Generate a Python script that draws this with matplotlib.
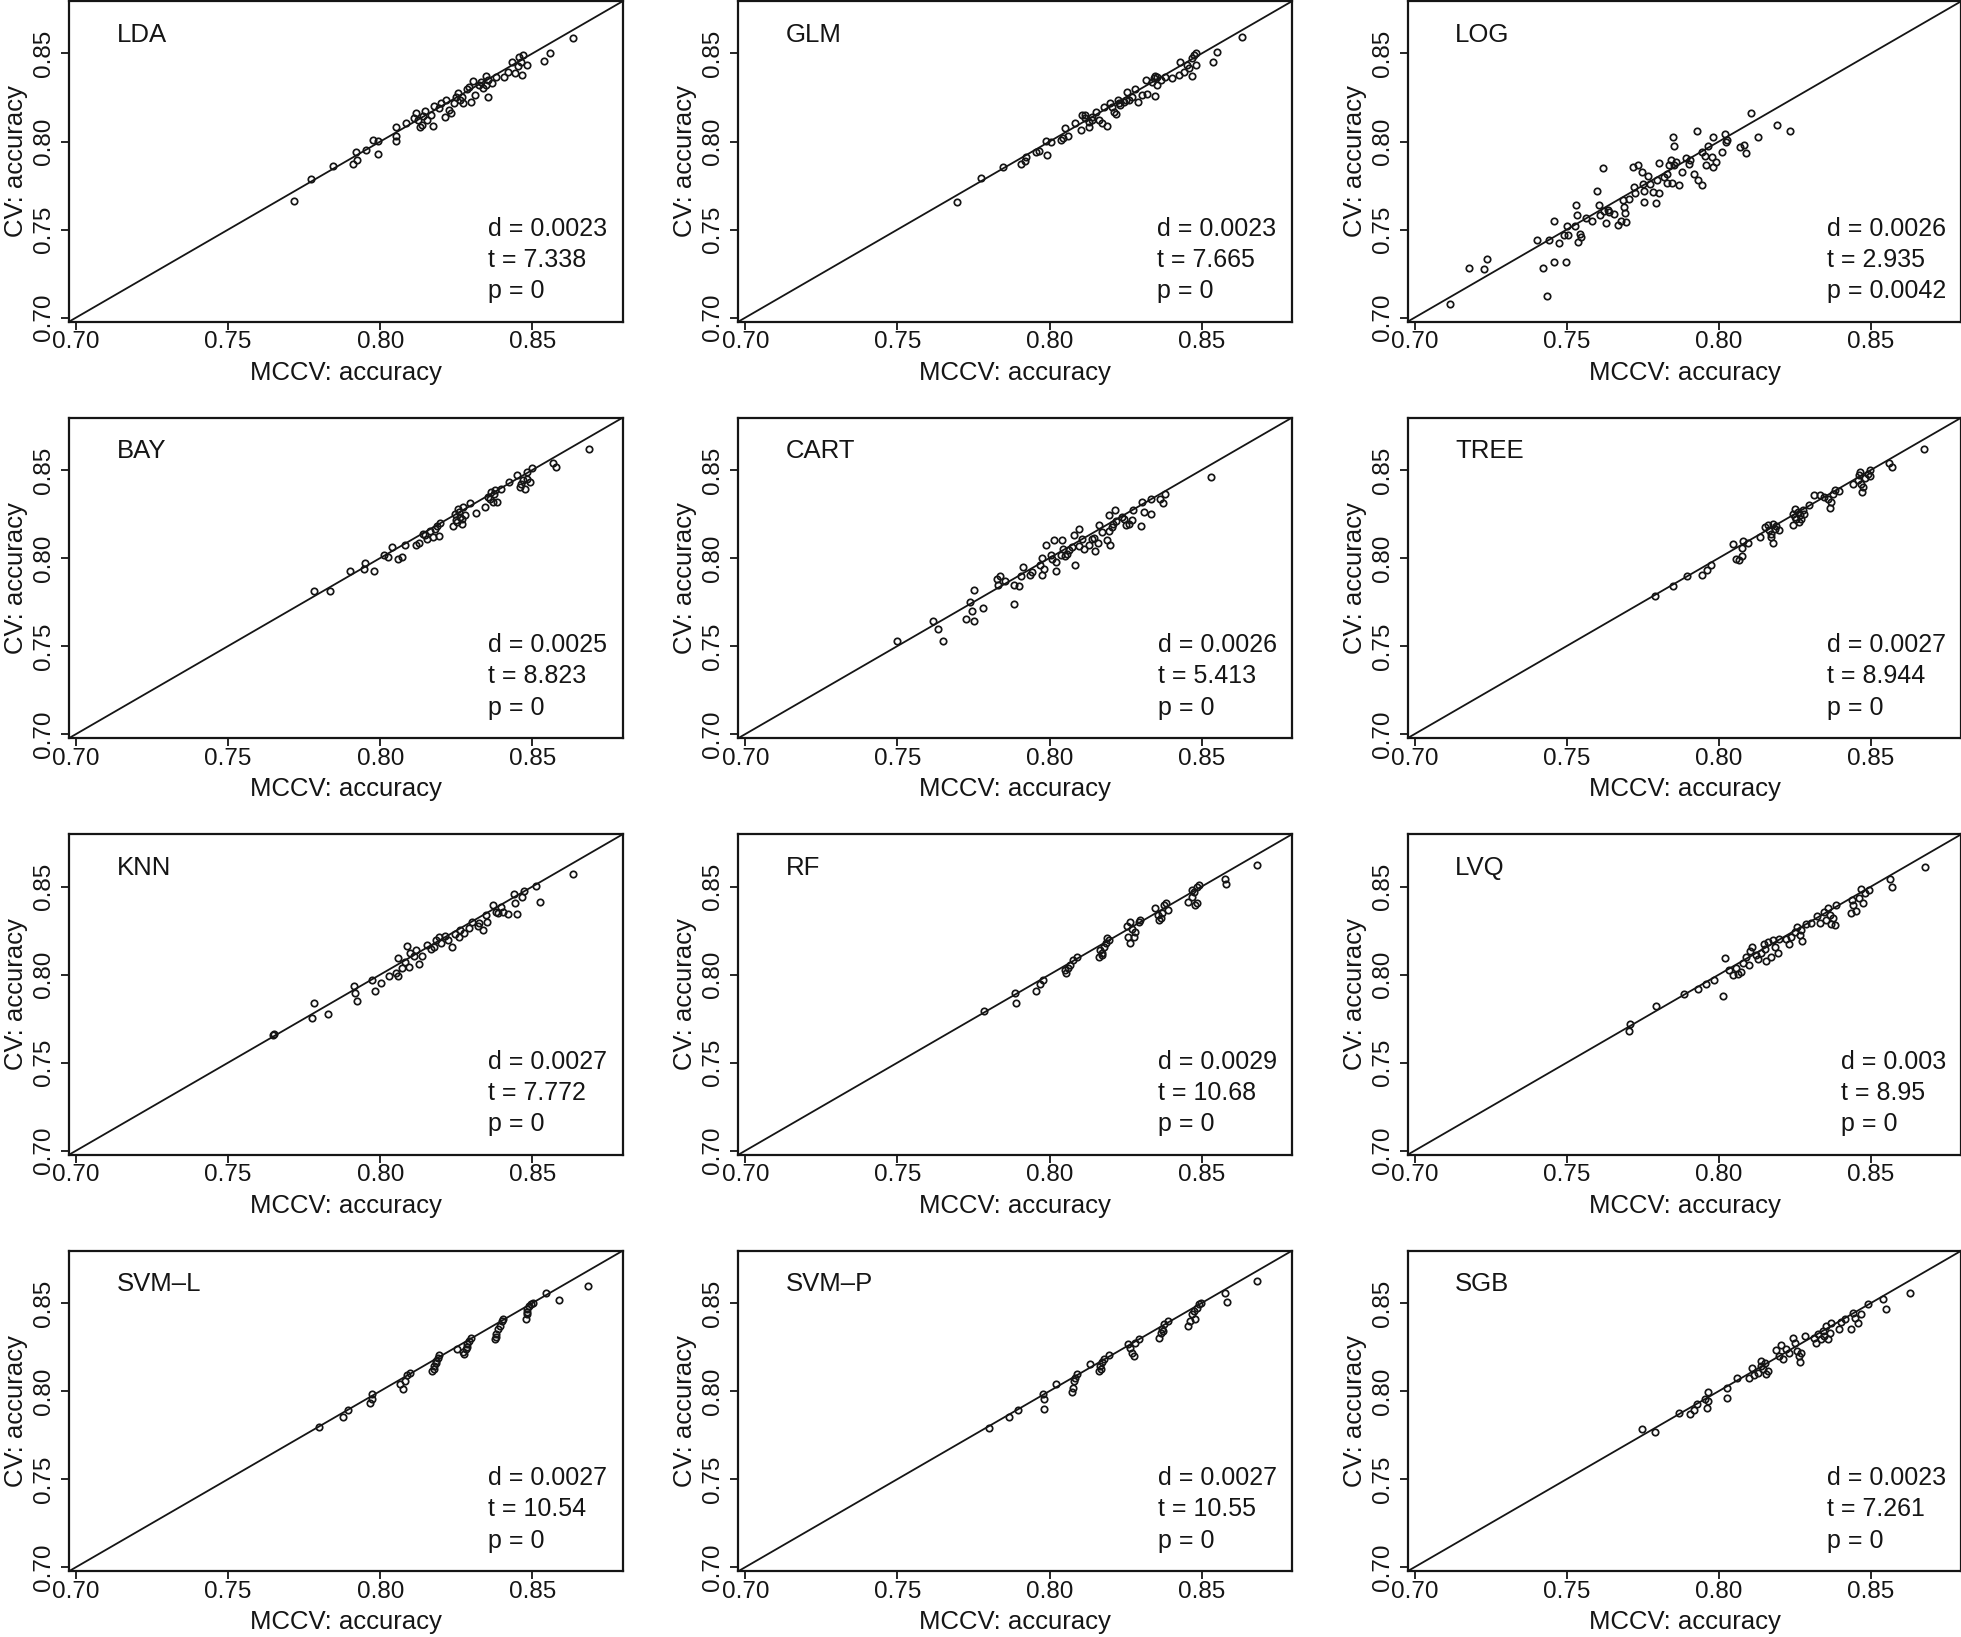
import numpy as np
import matplotlib
matplotlib.use("Agg")
from matplotlib import pyplot as plt

# MCCV accuracy (x) vs CV accuracy (y), one list of points per model
lda = [(0.7715, 0.7660), (0.7771, 0.7789), (0.7846, 0.7862), (0.7909, 0.7874), (0.7923, 0.7896),
       (0.7920, 0.7940), (0.7953, 0.7953), (0.7977, 0.8006), (0.7994, 0.8002), (0.7994, 0.7930),
       (0.8050, 0.8085), (0.8052, 0.8032), (0.8052, 0.8002), (0.8084, 0.8104), (0.8118, 0.8160),
       (0.8125, 0.8123), (0.8132, 0.8085), (0.8139, 0.8142), (0.8146, 0.8174), (0.8153, 0.8123),
       (0.8167, 0.8151), (0.8174, 0.8089), (0.8176, 0.8202), (0.8194, 0.8189), (0.8212, 0.8138),
       (0.8215, 0.8236), (0.8226, 0.8179), (0.8231, 0.8160), (0.8242, 0.8217), (0.8256, 0.8277),
       (0.8263, 0.8236), (0.8270, 0.8255), (0.8273, 0.8217), (0.8284, 0.8296), (0.8298, 0.8226),
       (0.8304, 0.8345), (0.8311, 0.8264), (0.8325, 0.8321), (0.8339, 0.8302), (0.8346, 0.8372),
       (0.8353, 0.8255), (0.8355, 0.8349), (0.8366, 0.8330), (0.8380, 0.8368), (0.8405, 0.8368),
       (0.8421, 0.8396), (0.8432, 0.8453), (0.8442, 0.8387), (0.8452, 0.8430), (0.8463, 0.8453),
       (0.8466, 0.8377), (0.8470, 0.8490), (0.8481, 0.8436), (0.8539, 0.8457), (0.8559, 0.8500),
       (0.8632, 0.8589), (0.8112, 0.8132), (0.8136, 0.8094), (0.8198, 0.8217), (0.8249, 0.8255),
       (0.8291, 0.8308), (0.8332, 0.8340), (0.8349, 0.8321), (0.8456, 0.8479)]

glm = [(0.7697, 0.7658), (0.7775, 0.7790), (0.7848, 0.7857), (0.7907, 0.7872), (0.7921, 0.7913),
       (0.7918, 0.7889), (0.7954, 0.7942), (0.7965, 0.7948), (0.7993, 0.7923), (0.7989, 0.8004),
       (0.8006, 0.7999), (0.8037, 0.8008), (0.8044, 0.8021), (0.8050, 0.8078), (0.8059, 0.8033),
       (0.8085, 0.8103), (0.8102, 0.8065), (0.8105, 0.8150), (0.8118, 0.8131), (0.8129, 0.8109),
       (0.8131, 0.8084), (0.8140, 0.8141), (0.8151, 0.8165), (0.8162, 0.8122), (0.8171, 0.8103),
       (0.8178, 0.8198), (0.8189, 0.8090), (0.8200, 0.8217), (0.8211, 0.8165), (0.8219, 0.8154),
       (0.8225, 0.8236), (0.8233, 0.8207), (0.8244, 0.8226), (0.8255, 0.8279), (0.8260, 0.8236),
       (0.8271, 0.8255), (0.8282, 0.8298), (0.8291, 0.8222), (0.8304, 0.8265), (0.8317, 0.8349),
       (0.8321, 0.8270), (0.8337, 0.8340), (0.8346, 0.8374), (0.8348, 0.8261), (0.8354, 0.8321),
       (0.8365, 0.8349), (0.8379, 0.8368), (0.8403, 0.8359), (0.8425, 0.8378), (0.8430, 0.8454),
       (0.8441, 0.8397), (0.8452, 0.8435), (0.8469, 0.8374), (0.8469, 0.8473), (0.8480, 0.8435),
       (0.8482, 0.8501), (0.8537, 0.8450), (0.8551, 0.8510), (0.8633, 0.8592), (0.8118, 0.8150),
       (0.8140, 0.8122), (0.8228, 0.8217), (0.8250, 0.8236), (0.8343, 0.8359), (0.8354, 0.8368),
       (0.8458, 0.8416), (0.8474, 0.8492), (0.8206, 0.8198)]

log = [(0.7117, 0.7080), (0.7180, 0.7282), (0.7228, 0.7278), (0.7238, 0.7333), (0.7403, 0.7439),
       (0.7423, 0.7284), (0.7434, 0.7123), (0.7443, 0.7439), (0.7457, 0.7549), (0.7459, 0.7316),
       (0.7475, 0.7424), (0.7491, 0.7468), (0.7497, 0.7313), (0.7502, 0.7523), (0.7504, 0.7468),
       (0.7526, 0.7519), (0.7529, 0.7642), (0.7533, 0.7581), (0.7537, 0.7430), (0.7542, 0.7477),
       (0.7547, 0.7455), (0.7564, 0.7563), (0.7584, 0.7549), (0.7600, 0.7720), (0.7607, 0.7638),
       (0.7610, 0.7581), (0.7620, 0.7847), (0.7623, 0.7606), (0.7628, 0.7538), (0.7634, 0.7610),
       (0.7640, 0.7597), (0.7654, 0.7591), (0.7670, 0.7525), (0.7678, 0.7549), (0.7685, 0.7667),
       (0.7688, 0.7629), (0.7692, 0.7595), (0.7694, 0.7544), (0.7704, 0.7676), (0.7717, 0.7856),
       (0.7721, 0.7739), (0.7725, 0.7710), (0.7735, 0.7869), (0.7748, 0.7828), (0.7752, 0.7756),
       (0.7755, 0.7720), (0.7755, 0.7657), (0.7768, 0.7803), (0.7775, 0.7761), (0.7784, 0.7714),
       (0.7792, 0.7652), (0.7798, 0.7780), (0.7802, 0.7879), (0.7803, 0.7708), (0.7819, 0.7799),
       (0.7829, 0.7818), (0.7829, 0.7765), (0.7835, 0.7866), (0.7842, 0.7894), (0.7846, 0.7765),
       (0.7849, 0.8027), (0.7851, 0.7975), (0.7851, 0.7869), (0.7860, 0.7884), (0.7869, 0.7752),
       (0.7878, 0.7826), (0.7892, 0.7909), (0.7902, 0.7875), (0.7906, 0.7894), (0.7918, 0.7818),
       (0.7929, 0.8059), (0.7932, 0.7780), (0.7943, 0.7941), (0.7945, 0.7752), (0.7956, 0.7917),
       (0.7959, 0.7866), (0.7964, 0.7975), (0.7976, 0.7913), (0.7980, 0.8027), (0.7980, 0.7856),
       (0.7990, 0.7884), (0.8010, 0.7941), (0.8020, 0.8042), (0.8023, 0.7998), (0.8027, 0.8008),
       (0.8070, 0.7970), (0.8084, 0.7979), (0.8090, 0.7932), (0.8104, 0.8163), (0.8128, 0.8023),
       (0.8191, 0.8093), (0.8234, 0.8061)]

bay = [(0.7783, 0.7812), (0.7836, 0.7812), (0.7900, 0.7926), (0.7946, 0.7935), (0.7949, 0.7973),
       (0.7978, 0.7926), (0.8013, 0.8019), (0.8026, 0.8005), (0.8039, 0.8060), (0.8059, 0.7992),
       (0.8072, 0.8005), (0.8081, 0.8075), (0.8117, 0.8071), (0.8128, 0.8087), (0.8141, 0.8138),
       (0.8154, 0.8109), (0.8163, 0.8151), (0.8174, 0.8119), (0.8185, 0.8182), (0.8194, 0.8125),
       (0.8196, 0.8200), (0.8240, 0.8182), (0.8245, 0.8252), (0.8250, 0.8214), (0.8256, 0.8276),
       (0.8261, 0.8233), (0.8267, 0.8195), (0.8272, 0.8290), (0.8278, 0.8242), (0.8296, 0.8314),
       (0.8316, 0.8257), (0.8343, 0.8290), (0.8354, 0.8347), (0.8365, 0.8375), (0.8371, 0.8318),
       (0.8376, 0.8384), (0.8382, 0.8318), (0.8398, 0.8394), (0.8423, 0.8432), (0.8448, 0.8470),
       (0.8459, 0.8404), (0.8470, 0.8441), (0.8475, 0.8394), (0.8483, 0.8489), (0.8491, 0.8432),
       (0.8500, 0.8508), (0.8568, 0.8542), (0.8577, 0.8517), (0.8685, 0.8621), (0.8259, 0.8261),
       (0.8253, 0.8204), (0.8270, 0.8223), (0.8360, 0.8337), (0.8373, 0.8365), (0.8464, 0.8422),
       (0.8481, 0.8450), (0.8146, 0.8128), (0.8180, 0.8166)]

cart = [(0.7497, 0.7531), (0.7617, 0.7640), (0.7633, 0.7598), (0.7650, 0.7526), (0.7724, 0.7651),
        (0.7737, 0.7749), (0.7746, 0.7698), (0.7751, 0.7820), (0.7751, 0.7640), (0.7782, 0.7717),
        (0.7826, 0.7878), (0.7831, 0.7844), (0.7836, 0.7897), (0.7852, 0.7867), (0.7884, 0.7740),
        (0.7884, 0.7844), (0.7901, 0.7840), (0.7907, 0.7897), (0.7912, 0.7948), (0.7934, 0.7905),
        (0.7941, 0.7920), (0.7970, 0.7958), (0.7974, 0.7901), (0.7976, 0.8000), (0.7981, 0.7939),
        (0.7989, 0.8075), (0.8006, 0.8015), (0.8014, 0.8100), (0.8020, 0.7977), (0.8020, 0.7926),
        (0.8036, 0.8015), (0.8042, 0.8100), (0.8044, 0.8049), (0.8058, 0.8024), (0.8063, 0.8043),
        (0.8074, 0.8062), (0.8080, 0.8132), (0.8082, 0.7962), (0.8096, 0.8068), (0.8098, 0.8166),
        (0.8105, 0.8110), (0.8113, 0.8049), (0.8129, 0.8075), (0.8146, 0.8113), (0.8149, 0.8037),
        (0.8160, 0.8087), (0.8164, 0.8189), (0.8171, 0.8147), (0.8189, 0.8100), (0.8195, 0.8151),
        (0.8195, 0.8246), (0.8200, 0.8072), (0.8208, 0.8195), (0.8215, 0.8271), (0.8217, 0.8208),
        (0.8244, 0.8223), (0.8250, 0.8189), (0.8261, 0.8195), (0.8270, 0.8214), (0.8274, 0.8271),
        (0.8299, 0.8182), (0.8304, 0.8318), (0.8310, 0.8261), (0.8332, 0.8337), (0.8332, 0.8252),
        (0.8364, 0.8337), (0.8372, 0.8314), (0.8379, 0.8365), (0.8531, 0.8460), (0.8009, 0.7996),
        (0.8052, 0.8011), (0.8140, 0.8109), (0.8206, 0.8176), (0.8239, 0.8233)]

tree = [(0.7791, 0.7784), (0.7850, 0.7840), (0.7894, 0.7897), (0.7944, 0.7901), (0.7961, 0.7929),
        (0.7975, 0.7958), (0.8046, 0.8077), (0.8057, 0.7996), (0.8065, 0.7990), (0.8076, 0.8009),
        (0.8077, 0.8057), (0.8079, 0.8096), (0.8096, 0.8087), (0.8136, 0.8119), (0.8150, 0.8176),
        (0.8161, 0.8185), (0.8166, 0.8157), (0.8172, 0.8138), (0.8177, 0.8195), (0.8183, 0.8166),
        (0.8188, 0.8182), (0.8170, 0.8119), (0.8177, 0.8087), (0.8196, 0.8157), (0.8245, 0.8185),
        (0.8243, 0.8252), (0.8251, 0.8276), (0.8259, 0.8261), (0.8265, 0.8242), (0.8270, 0.8223),
        (0.8276, 0.8271), (0.8281, 0.8252), (0.8254, 0.8223), (0.8262, 0.8204), (0.8249, 0.8233),
        (0.8296, 0.8299), (0.8314, 0.8360), (0.8331, 0.8356), (0.8347, 0.8346), (0.8358, 0.8337),
        (0.8364, 0.8284), (0.8369, 0.8318), (0.8374, 0.8365), (0.8380, 0.8384), (0.8396, 0.8379),
        (0.8440, 0.8418), (0.8457, 0.8441), (0.8462, 0.8470), (0.8468, 0.8422), (0.8473, 0.8403),
        (0.8471, 0.8375), (0.8479, 0.8455), (0.8490, 0.8479), (0.8495, 0.8502), (0.8498, 0.8466),
        (0.8465, 0.8489), (0.8558, 0.8542), (0.8569, 0.8517), (0.8673, 0.8616)]

knn = [(0.7646, 0.7656), (0.7651, 0.7661), (0.7777, 0.7754), (0.7782, 0.7841), (0.7827, 0.7775),
       (0.7913, 0.7936), (0.7917, 0.7896), (0.7924, 0.7849), (0.7974, 0.7972), (0.7981, 0.7906),
       (0.8003, 0.7955), (0.8030, 0.7991), (0.8053, 0.8010), (0.8058, 0.7991), (0.8058, 0.8092),
       (0.8071, 0.8038), (0.8080, 0.8072), (0.8087, 0.8162), (0.8094, 0.8044), (0.8098, 0.8120),
       (0.8110, 0.8105), (0.8117, 0.8139), (0.8126, 0.8059), (0.8137, 0.8105), (0.8155, 0.8167),
       (0.8166, 0.8143), (0.8184, 0.8196), (0.8194, 0.8211), (0.8200, 0.8181), (0.8212, 0.8219),
       (0.8223, 0.8196), (0.8234, 0.8154), (0.8245, 0.8230), (0.8261, 0.8253), (0.8275, 0.8234),
       (0.8291, 0.8263), (0.8302, 0.8301), (0.8320, 0.8276), (0.8336, 0.8253), (0.8347, 0.8338),
       (0.8352, 0.8301), (0.8370, 0.8395), (0.8381, 0.8357), (0.8397, 0.8385), (0.8420, 0.8344),
       (0.8438, 0.8458), (0.8449, 0.8344), (0.8442, 0.8404), (0.8467, 0.8442), (0.8472, 0.8476),
       (0.8512, 0.8505), (0.8524, 0.8414), (0.8632, 0.8569), (0.8178, 0.8158), (0.8257, 0.8215),
       (0.8325, 0.8291), (0.8404, 0.8357), (0.8388, 0.8351)]

rf = [(0.7784, 0.7792), (0.7886, 0.7893), (0.7890, 0.7840), (0.7954, 0.7908), (0.7970, 0.7946),
      (0.7977, 0.7972), (0.8054, 0.8010), (0.8060, 0.8035), (0.8067, 0.8054), (0.8076, 0.8082),
      (0.8090, 0.8101), (0.8050, 0.8025), (0.8162, 0.8101), (0.8173, 0.8124), (0.8180, 0.8158),
      (0.8185, 0.8177), (0.8196, 0.8196), (0.8167, 0.8139), (0.8189, 0.8205), (0.8173, 0.8111),
      (0.8253, 0.8275), (0.8264, 0.8300), (0.8271, 0.8256), (0.8276, 0.8215), (0.8264, 0.8177),
      (0.8280, 0.8243), (0.8294, 0.8300), (0.8257, 0.8215), (0.8298, 0.8310), (0.8348, 0.8376),
      (0.8355, 0.8338), (0.8361, 0.8310), (0.8370, 0.8347), (0.8377, 0.8395), (0.8384, 0.8408),
      (0.8366, 0.8319), (0.8389, 0.8366), (0.8456, 0.8414), (0.8468, 0.8442), (0.8474, 0.8471),
      (0.8483, 0.8495), (0.8490, 0.8509), (0.8479, 0.8395), (0.8486, 0.8404), (0.8468, 0.8480),
      (0.8576, 0.8541), (0.8581, 0.8514), (0.8683, 0.8622)]

lvq = [(0.7703, 0.7680), (0.7707, 0.7722), (0.7794, 0.7821), (0.7884, 0.7889), (0.7931, 0.7917),
       (0.7958, 0.7949), (0.7983, 0.7968), (0.8014, 0.7877), (0.8019, 0.8095), (0.8032, 0.8025),
       (0.8046, 0.7997), (0.8057, 0.8040), (0.8062, 0.8002), (0.8073, 0.8016), (0.8079, 0.8063),
       (0.8090, 0.8097), (0.8098, 0.8054), (0.8101, 0.8135), (0.8108, 0.8154), (0.8123, 0.8111),
       (0.8128, 0.8086), (0.8139, 0.8120), (0.8148, 0.8173), (0.8152, 0.8148), (0.8156, 0.8078),
       (0.8163, 0.8186), (0.8170, 0.8101), (0.8177, 0.8196), (0.8183, 0.8158), (0.8194, 0.8124),
       (0.8196, 0.8200), (0.8221, 0.8200), (0.8229, 0.8173), (0.8238, 0.8215), (0.8249, 0.8243),
       (0.8258, 0.8268), (0.8265, 0.8224), (0.8271, 0.8253), (0.8273, 0.8192), (0.8287, 0.8287),
       (0.8303, 0.8294), (0.8323, 0.8332), (0.8333, 0.8294), (0.8347, 0.8357), (0.8353, 0.8309),
       (0.8358, 0.8376), (0.8364, 0.8338), (0.8369, 0.8290), (0.8375, 0.8319), (0.8380, 0.8281),
       (0.8386, 0.8395), (0.8435, 0.8347), (0.8437, 0.8423), (0.8440, 0.8395), (0.8451, 0.8362),
       (0.8462, 0.8432), (0.8468, 0.8484), (0.8473, 0.8408), (0.8481, 0.8461), (0.8492, 0.8480),
       (0.8564, 0.8542), (0.8568, 0.8500), (0.8679, 0.8609)]

svm_l = [(0.7798, 0.7797), (0.7877, 0.7852), (0.7895, 0.7892), (0.7967, 0.7933), (0.7974, 0.7956),
         (0.7974, 0.7981), (0.8065, 0.8038), (0.8076, 0.8013), (0.8080, 0.8056), (0.8087, 0.8089),
         (0.8098, 0.8104), (0.8171, 0.8113), (0.8178, 0.8142), (0.8184, 0.8170), (0.8189, 0.8189),
         (0.8194, 0.8202), (0.8175, 0.8127), (0.8182, 0.8157), (0.8252, 0.8240), (0.8275, 0.8208),
         (0.8280, 0.8237), (0.8284, 0.8265), (0.8291, 0.8284), (0.8298, 0.8303), (0.8273, 0.8222),
         (0.8286, 0.8252), (0.8377, 0.8293), (0.8381, 0.8322), (0.8388, 0.8350), (0.8393, 0.8369),
         (0.8399, 0.8398), (0.8404, 0.8407), (0.8379, 0.8309), (0.8479, 0.8407), (0.8483, 0.8436),
         (0.8483, 0.8464), (0.8488, 0.8483), (0.8494, 0.8492), (0.8501, 0.8502), (0.8481, 0.8449),
         (0.8546, 0.8558), (0.8587, 0.8517), (0.8682, 0.8597)]

svm_p = [(0.7800, 0.7791), (0.7868, 0.7852), (0.7897, 0.7895), (0.7977, 0.7981), (0.7981, 0.7952),
         (0.7981, 0.7899), (0.8020, 0.8038), (0.8072, 0.7994), (0.8076, 0.8019), (0.8079, 0.8056),
         (0.8083, 0.8075), (0.8090, 0.8094), (0.8133, 0.8151), (0.8162, 0.8113), (0.8167, 0.8142),
         (0.8173, 0.8164), (0.8180, 0.8180), (0.8196, 0.8202), (0.8170, 0.8127), (0.8257, 0.8265),
         (0.8264, 0.8246), (0.8271, 0.8218), (0.8280, 0.8270), (0.8294, 0.8297), (0.8276, 0.8199),
         (0.8361, 0.8303), (0.8366, 0.8328), (0.8370, 0.8354), (0.8377, 0.8379), (0.8389, 0.8398),
         (0.8373, 0.8341), (0.8456, 0.8369), (0.8461, 0.8398), (0.8468, 0.8435), (0.8474, 0.8454),
         (0.8483, 0.8473), (0.8490, 0.8492), (0.8497, 0.8502), (0.8479, 0.8411), (0.8576, 0.8555),
         (0.8583, 0.8506), (0.8683, 0.8625)]

sgb = [(0.7748, 0.7782), (0.7789, 0.7766), (0.7868, 0.7873), (0.7906, 0.7867), (0.7918, 0.7892),
       (0.7928, 0.7929), (0.7953, 0.7956), (0.7962, 0.7905), (0.7964, 0.7943), (0.7964, 0.7994),
       (0.8027, 0.8015), (0.8027, 0.7962), (0.8060, 0.8072), (0.8100, 0.8072), (0.8108, 0.8132),
       (0.8117, 0.8089), (0.8128, 0.8104), (0.8137, 0.8142), (0.8139, 0.8170), (0.8145, 0.8123),
       (0.8150, 0.8157), (0.8156, 0.8094), (0.8161, 0.8113), (0.8188, 0.8233), (0.8199, 0.8198),
       (0.8205, 0.8259), (0.8210, 0.8180), (0.8221, 0.8237), (0.8229, 0.8214), (0.8243, 0.8303),
       (0.8249, 0.8271), (0.8258, 0.8227), (0.8262, 0.8198), (0.8265, 0.8165), (0.8271, 0.8218),
       (0.8284, 0.8312), (0.8313, 0.8303), (0.8320, 0.8271), (0.8325, 0.8322), (0.8334, 0.8293),
       (0.8342, 0.8340), (0.8347, 0.8312), (0.8353, 0.8369), (0.8358, 0.8297), (0.8364, 0.8327),
       (0.8369, 0.8388), (0.8396, 0.8350), (0.8402, 0.8392), (0.8413, 0.8407), (0.8433, 0.8354),
       (0.8440, 0.8445), (0.8446, 0.8417), (0.8457, 0.8388), (0.8468, 0.8436), (0.8490, 0.8492),
       (0.8539, 0.8521), (0.8550, 0.8468), (0.8629, 0.8559)]

names = ["LDA", "GLM", "LOG", "BAY", "CART", "TREE", "KNN", "RF", "LVQ", "SVM\u2013L", "SVM\u2013P", "SGB"]
panels = [lda, glm, log, bay, cart, tree, knn, rf, lvq, svm_l, svm_p, sgb]
d_vals = ["0.0023", "0.0023", "0.0026", "0.0025", "0.0026", "0.0027",
          "0.0027", "0.0029", "0.003", "0.0027", "0.0027", "0.0023"]
t_vals = ["7.338", "7.665", "2.935", "8.823", "5.413", "8.944",
          "7.772", "10.68", "8.95", "10.54", "10.55", "7.261"]
p_vals = ["0", "0", "0.0042", "0", "0", "0", "0", "0", "0", "0", "0", "0"]
ticks = [0.70, 0.75, 0.80, 0.85]
tick_labels = ["0.70", "0.75", "0.80", "0.85"]

plt.rcParams['font.family'] = ['Liberation Sans', 'DejaVu Sans']
ink = "#151515"

fig = plt.figure(figsize=(19.61, 16.37), dpi=100)
lefts = [0.0352, 0.3765, 0.7178]
bottoms = [0.8035, 0.5491, 0.2946, 0.0402]

for i, name in enumerate(names):
    ax = fig.add_axes([lefts[i % 3], bottoms[i // 3], 0.2824, 0.1958])
    pts = np.array(panels[i])
    ax.plot(pts[:, 0], pts[:, 1], 'o', mfc='none', mec=ink, ms=4.6, mew=1.25, ls='none')
    ax.axline((0.70, 0.70), slope=1, color=ink, lw=1.3)
    ax.set_xlim(0.6977, 0.8797)
    ax.set_ylim(0.6977, 0.8797)

    ax.set_xticks(ticks)
    ax.set_xticklabels(tick_labels)
    ax.set_yticks(ticks)
    ax.set_yticklabels(tick_labels, rotation=90, va='center')
    ax.tick_params(length=6, width=1.3, labelsize=17.5, color=ink, labelcolor=ink)
    ax.tick_params(axis='x', pad=1)
    ax.tick_params(axis='y', pad=4)
    for sp in ax.spines.values():
        sp.set_linewidth(1.6)
        sp.set_color(ink)

    ax.set_xlabel("MCCV: accuracy", fontsize=18.5, color=ink)
    ax.xaxis.set_label_coords(0.5, -0.122)
    ax.xaxis.label.set_va('top')
    ax.set_ylabel("CV: accuracy", fontsize=18.5, color=ink)
    ax.yaxis.set_label_coords(-0.074, 0.5)

    ax.text(0.086, 0.873, name, transform=ax.transAxes, fontsize=18.5,
            ha='left', va='baseline', color=ink)
    stats = "d = " + d_vals[i] + "\nt = " + t_vals[i] + "\np = " + p_vals[i]
    ax.text(0.972, 0.058, stats, transform=ax.transAxes, fontsize=18,
            ha='right', va='bottom', multialignment='left', color=ink, linespacing=1.38)

fig.savefig("out.png", dpi=100, facecolor="white")
